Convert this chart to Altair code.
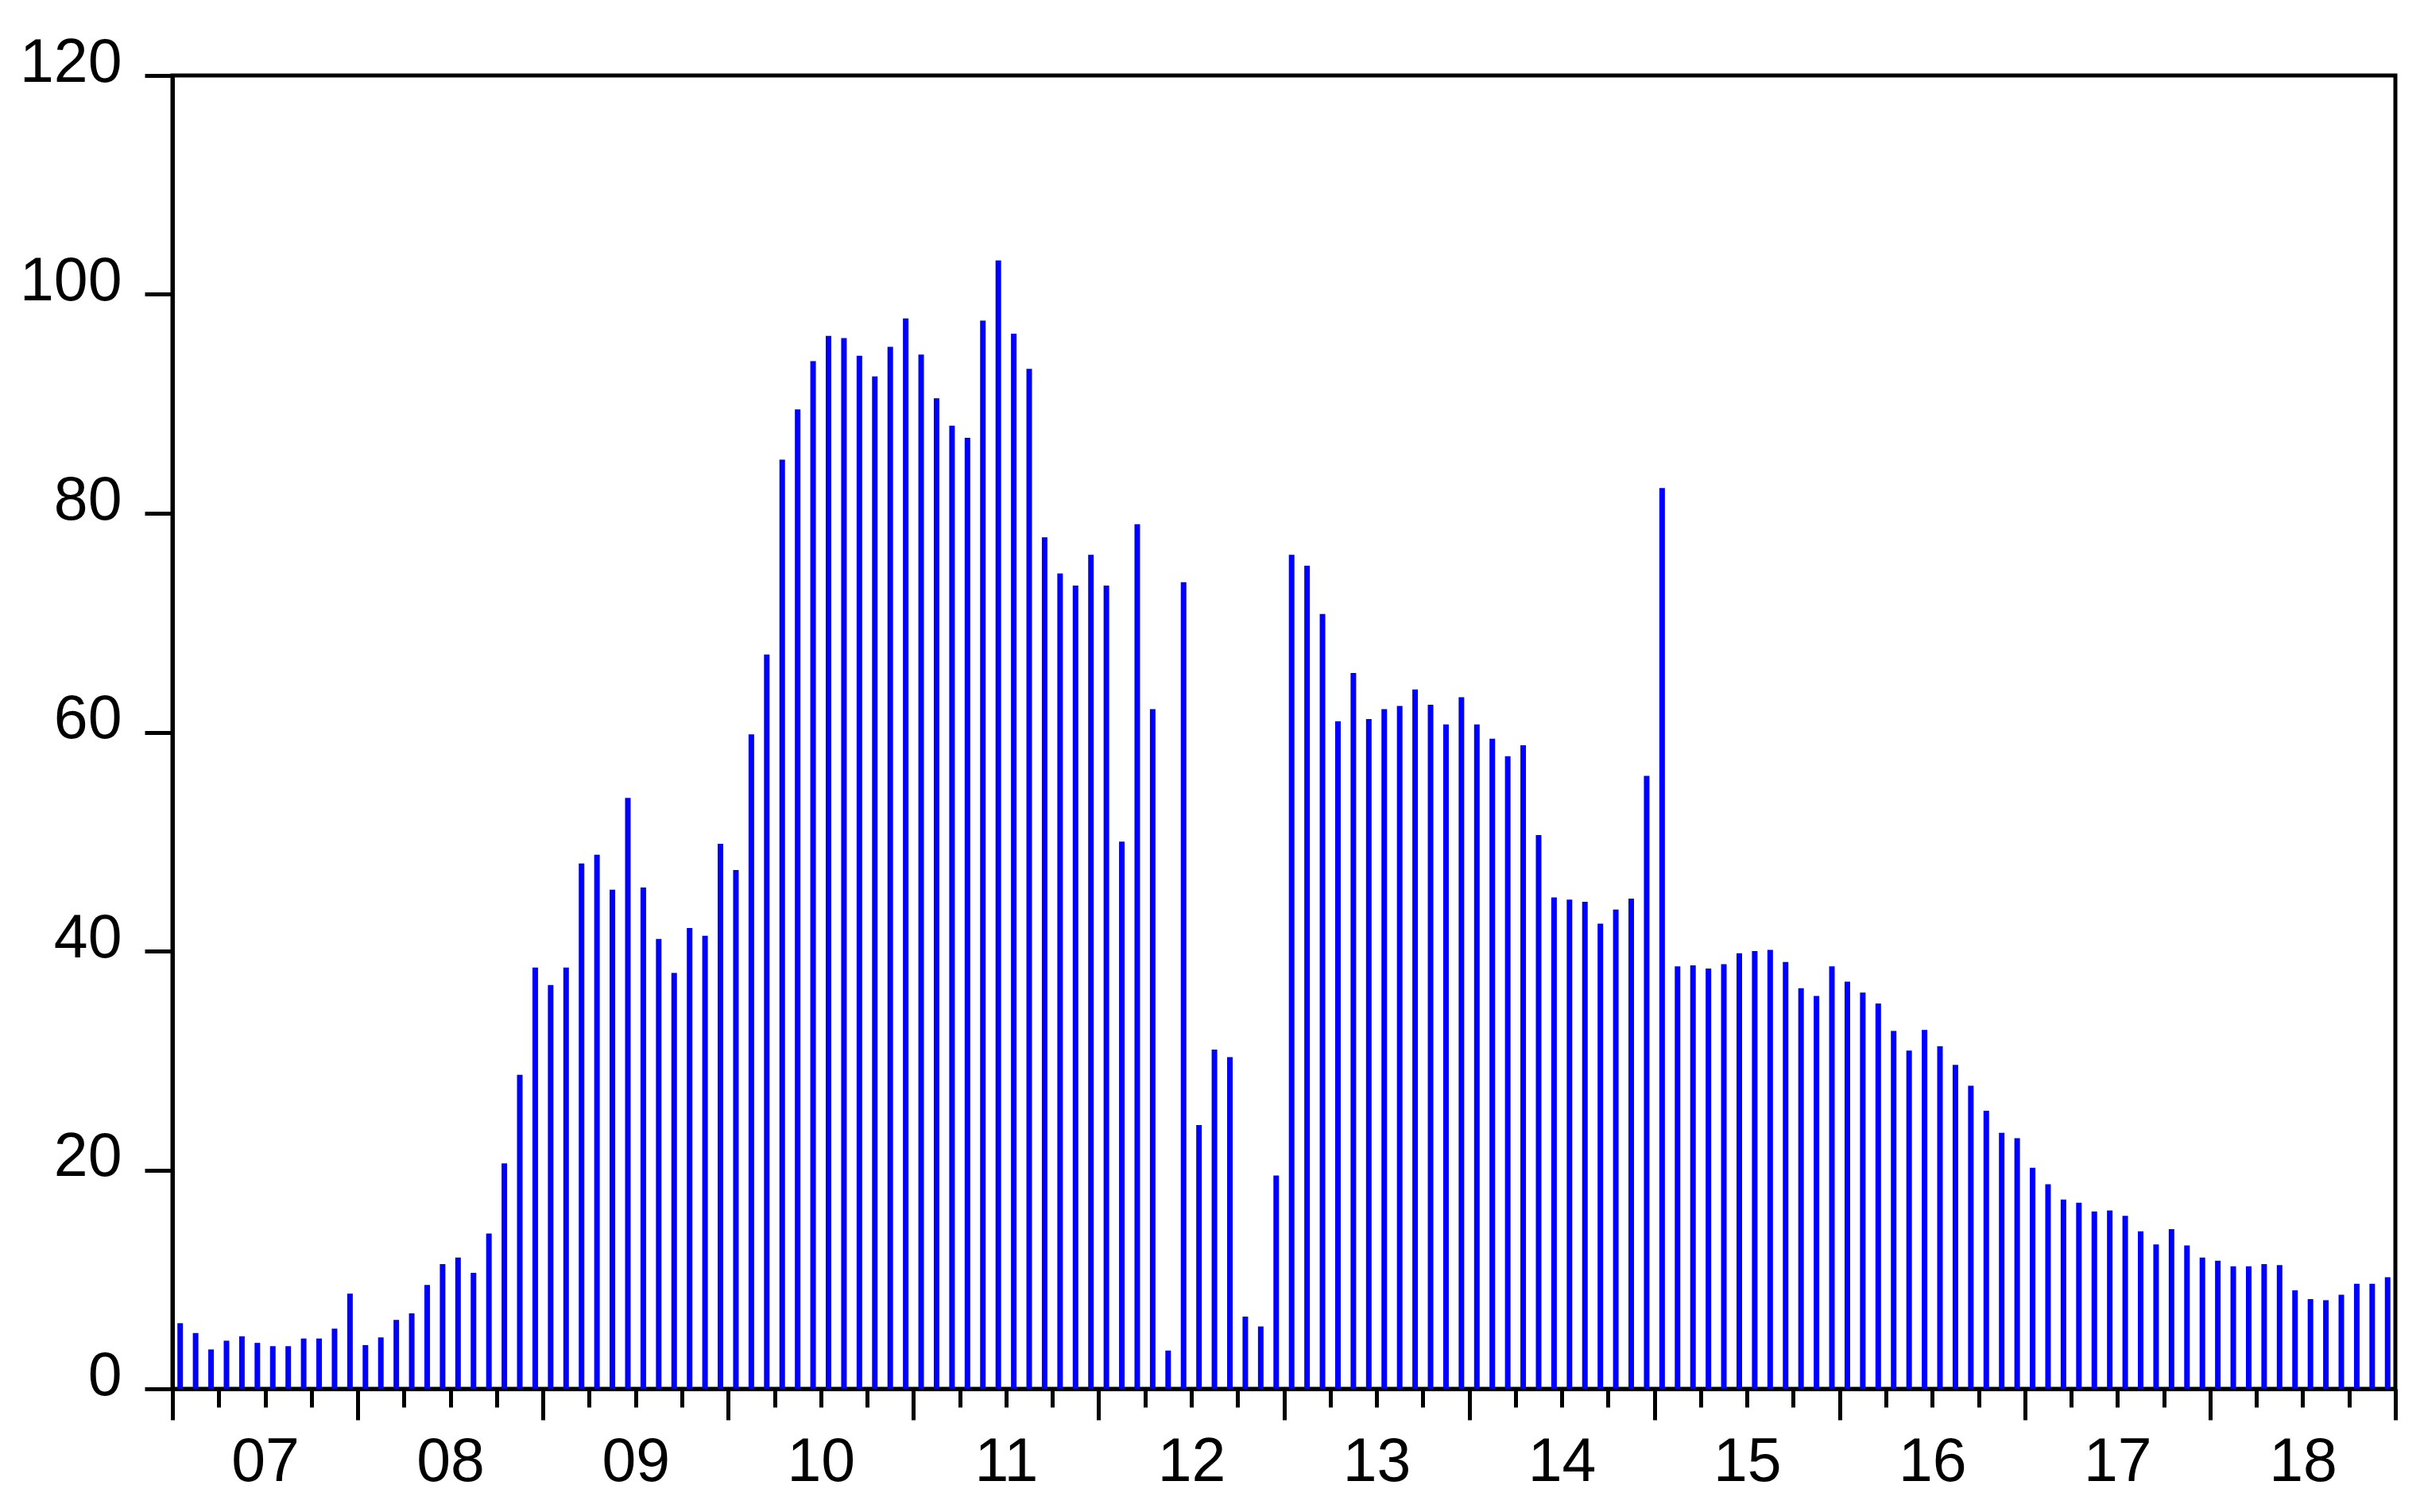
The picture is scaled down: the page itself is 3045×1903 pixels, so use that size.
import altair as alt
import pandas as pd

years = ["07", "08", "09", "10", "11", "12", "13", "14", "15", "16", "17", "18"]

v2007 = [6.0, 5.1, 3.6, 4.4, 4.8, 4.2, 3.9, 3.9, 4.6, 4.6, 5.5, 8.7]
v2008 = [4.0, 4.7, 6.3, 6.9, 9.5, 11.4, 12.0, 10.6, 14.2, 20.6, 28.7, 38.5]
v2009 = [36.9, 38.5, 48.0, 48.8, 45.6, 54.0, 45.8, 41.1, 38.0, 42.1, 41.4, 49.8]
v2010 = [47.4, 59.8, 67.1, 84.9, 89.5, 93.9, 96.2, 96.0, 94.4, 92.5, 95.2, 97.8]
v2011 = [94.5, 90.5, 88.0, 86.9, 97.6, 103.1, 96.4, 93.2, 77.8, 74.5, 73.4, 76.2]
v2012 = [73.4, 50.0, 79.0, 62.1, 3.5, 73.7, 24.1, 31.0, 30.3, 6.6, 5.7, 19.5]
v2013 = [76.2, 75.2, 70.8, 61.0, 65.4, 61.2, 62.1, 62.4, 63.9, 62.5, 60.7, 63.2]
v2014 = [60.7, 59.4, 57.8, 58.8, 50.6, 44.9, 44.7, 44.5, 42.5, 43.8, 44.8, 56.0]
v2015 = [82.3, 38.6, 38.7, 38.4, 38.8, 39.8, 40.0, 40.1, 39.0, 36.6, 35.9, 38.6]
v2016 = [37.2, 36.2, 35.2, 32.7, 30.9, 32.8, 31.3, 29.6, 27.7, 25.4, 23.4, 22.9]
v2017 = [20.2, 18.7, 17.3, 17.0, 16.2, 16.3, 15.8, 14.4, 13.2, 14.6, 13.1, 12.0]
v2018 = [11.7, 11.2, 11.2, 11.4, 11.3, 9.0, 8.2, 8.1, 8.6, 9.6, 9.6, 10.2]

y_ticks = [0, 20, 40, 60, 80, 100, 120]

series = (v2007 + v2008 + v2009 + v2010 + v2011 + v2012 +
          v2013 + v2014 + v2015 + v2016 + v2017 + v2018)
n = len(series)
df = pd.DataFrame({"m": [i + 0.5 for i in range(n)], "value": series})

quarter_ticks = list(range(0, n + 1, 3))
W, H = 2797, 1653
label_arr = "[" + ",".join("'" + y + "'" for y in years) + "]"

FONT = "Liberation Sans"

chart = alt.Chart(df).mark_rule(color="#0000FF", strokeWidth=7, strokeCap="butt").encode(
    x=alt.X("m:Q",
            scale=alt.Scale(domain=[0, n], nice=False, zero=False),
            axis=alt.Axis(values=quarter_ticks, title=None, grid=False,
                          tickSize={"condition": {"test": "datum.value % 12 === 0", "value": 39}, "value": 23},
                          tickWidth=5, tickColor="black",
                          domainWidth=5, domainColor="black",
                          labelExpr=label_arr + "[datum.value/12] || ''",
                          labelOffset=W / 24, labelPadding=15,
                          labelFontSize=77, labelFont=FONT, labelColor="black",
                          labelOverlap=False, labelBound=False, labelFlush=False)),
    y=alt.Y("value:Q",
            scale=alt.Scale(domain=[0, 120], nice=False),
            axis=alt.Axis(values=y_ticks, title=None, grid=False,
                          tickSize=35, tickWidth=5, tickColor="black",
                          domainWidth=5, domainColor="black",
                          labelPadding=29, labelFontSize=77, labelFont=FONT,
                          labelColor="black", labelBaseline="alphabetic",
                          labelOffset=7, labelOverlap=False, labelBound=False,
                          labelFlush=False)),
    y2=alt.datum(0),
).properties(
    width=W, height=H,
    background="white",
    autosize=alt.AutoSizeParams(type="none"),
    padding={"left": 209, "top": 87, "right": 20, "bottom": 140},
).configure_view(stroke="black", strokeWidth=5)

chart.save("out.html", embed_options={"renderer": "svg", "actions": False})
